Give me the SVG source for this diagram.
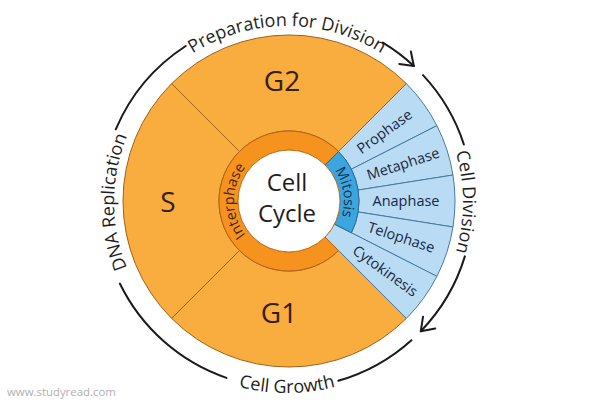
<svg xmlns="http://www.w3.org/2000/svg" xmlns:xlink="http://www.w3.org/1999/xlink" width="600" height="400" viewBox="0 0 600 400">
<style>
text{font-family:"Open Sans","Liberation Sans",sans-serif}
.org{fill:#f9ad3e;stroke:#a0601a;stroke-width:1}
.blu{fill:#b9dcf4;stroke:#46799e;stroke-width:1}
.big{font-size:28px;fill:#33200f;text-anchor:middle}
.ph{font-size:14.5px;fill:#1a2744;text-anchor:middle}
.arcl{font-size:18px;fill:#1e1e1e;text-anchor:middle}
.arc{fill:none;stroke:#1a1a1a;stroke-width:2;stroke-linecap:round}
</style>
<defs>
<marker id="chev" markerUnits="userSpaceOnUse" markerWidth="30" markerHeight="30" refX="15" refY="15" orient="auto" viewBox="0 0 30 30">
<path d="M3 6.5 L15 15 L3 23.5" fill="none" stroke="#1a1a1a" stroke-width="2" stroke-linecap="round" stroke-linejoin="round"/>
</marker>
<path id="pTop" d="M111 202 A176 176 0 0 1 463 202"/>
<path id="pRight" d="M287 26 A176 176 0 0 1 287 378"/>
<path id="pLeft" d="M287 375 A173 173 0 0 1 287 29"/>
<path id="pBottom" d="M96 202 A191 191 0 0 0 478 202"/>
<path id="pInter" d="M289 256 A55 55 0 0 1 289 146"/>
<path id="pMito" d="M289 146 A55 55 0 0 1 289 256"/>
</defs>
<rect width="600" height="400" fill="#fff"/>
<g id="node-g2">
<path class="org" d="M171.62 83.62 A166 166 0 0 1 406.38 83.62 L338.50 151.50 A70 70 0 0 0 239.50 151.50 Z"/>
<text class="big" x="282" y="91">G2</text>
</g>
<g id="node-s">
<path class="org" d="M171.62 318.38 A166 166 0 0 1 171.62 83.62 L239.50 151.50 A70 70 0 0 0 239.50 250.50 Z"/>
<text class="big" x="168" y="212">S</text>
</g>
<g id="node-g1">
<path class="org" d="M406.38 318.38 A166 166 0 0 1 171.62 318.38 L239.50 250.50 A70 70 0 0 0 338.50 250.50 Z"/>
<text class="big" x="279" y="323">G1</text>
</g>
<g id="node-prophase">
<path class="blu" d="M338.50 151.50 L406.38 83.62 A166 166 0 0 1 436.91 125.64 L351.37 169.22 A70 70 0 0 0 338.50 151.50 Z"/>
<text class="ph" transform="translate(289 201) rotate(-36) translate(118 5)">Prophase</text>
</g>
<g id="node-metaphase">
<path class="blu" d="M351.37 169.22 L436.91 125.64 A166 166 0 0 1 452.96 175.03 L358.14 190.05 A70 70 0 0 0 351.37 169.22 Z"/>
<text class="ph" transform="translate(289 201) rotate(-18) translate(120 5)">Metaphase</text>
</g>
<g id="node-anaphase">
<path class="blu" d="M358.14 190.05 L452.96 175.03 A166 166 0 0 1 452.96 226.97 L358.14 211.95 A70 70 0 0 0 358.14 190.05 Z"/>
<text class="ph" transform="translate(289 201) rotate(0) translate(117 5)">Anaphase</text>
</g>
<g id="node-telophase">
<path class="blu" d="M358.14 211.95 L452.96 226.97 A166 166 0 0 1 436.91 276.36 L351.37 232.78 A70 70 0 0 0 358.14 211.95 Z"/>
<text class="ph" transform="translate(289 201) rotate(18) translate(118 5)">Telophase</text>
</g>
<g id="node-cytokinesis">
<path class="blu" d="M334.44 224.15 L436.91 276.36 A166 166 0 0 1 406.38 318.38 L325.06 237.06 A51 51 0 0 0 334.44 224.15 Z"/>
<text class="ph" transform="translate(289 201) rotate(36) translate(119 5)">Cytokinesis</text>
</g>
<g id="node-interphase">
<path d="M338.50 250.50 A70 70 0 1 1 338.50 151.50 L325.06 164.94 A51 51 0 1 0 325.06 237.06 Z" fill="#f6921e" stroke="#b0601a" stroke-width="1"/>
<text font-size="14.5" fill="#4a2500" text-anchor="middle"><textPath xlink:href="#pInter" href="#pInter" startOffset="50%">Interphase</textPath></text>
</g>
<g id="node-mitosis">
<path d="M338.50 151.50 A70 70 0 0 1 351.37 232.78 L334.44 224.15 A51 51 0 0 0 325.06 164.94 Z" fill="#3aa5df" stroke="#2b6b96" stroke-width="1"/>
<text font-size="14.5" fill="#14304c" text-anchor="middle"><textPath xlink:href="#pMito" href="#pMito" startOffset="45%">Mitosis</textPath></text>
</g>
<g id="node-center">
<circle cx="289" cy="201" r="51" fill="#fff" stroke="#c8701a" stroke-width="1"/>
<text x="287" y="191" font-size="24" fill="#1e1e1e" text-anchor="middle">Cell</text>
<text x="287" y="222" font-size="24" fill="#1e1e1e" text-anchor="middle">Cycle</text>
</g>
<g id="connectors">
<path class="arc" d="M115.79 129.32 A186 186 0 0 1 185.70 46.01"/>
<path class="arc" d="M382.80 42.57 A186 186 0 0 1 413.85 65.97" marker-end="url(#chev)"/>
<path class="arc" d="M423.03 75.15 A186 186 0 0 1 463.90 144.52"/>
<path class="arc" d="M464.87 256.38 A186 186 0 0 1 420.80 331.21" marker-end="url(#chev)"/>
<path class="arc" d="M411.46 340.22 A186 186 0 0 1 338.27 380.79"/>
<path class="arc" d="M226.44 377.87 A186 186 0 0 1 119.83 283.54"/>
</g>
<g id="labels">
<text class="arcl"><textPath xlink:href="#pTop" href="#pTop" startOffset="50%">Preparation for Division</textPath></text>
<text class="arcl"><textPath xlink:href="#pRight" href="#pRight" startOffset="50%">Cell Division</textPath></text>
<text class="arcl"><textPath xlink:href="#pLeft" href="#pLeft" startOffset="50%">DNA Replication</textPath></text>
<text class="arcl"><textPath xlink:href="#pBottom" href="#pBottom" startOffset="50%">Cell Growth</textPath></text>
</g>
<text x="7" y="396" font-size="11.4" fill="#b0b0b0">www.studyread.com</text>
</svg>
